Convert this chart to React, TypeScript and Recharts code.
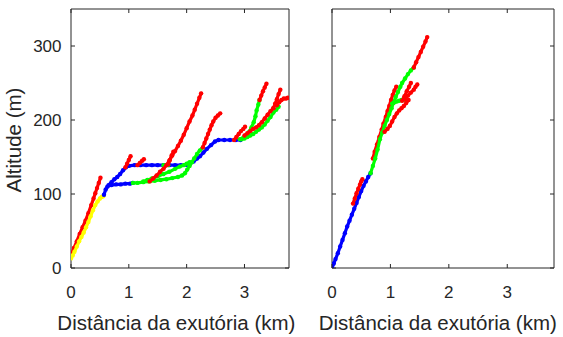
import React from 'react';
import { ScatterChart, Scatter, XAxis, YAxis } from 'recharts';

type Pt = [number, number];

// ---- left panel: distance (km), altitude (m) ----
const leftYellow: Pt[] = [[0, 13], [0.03, 17], [0.06, 22], [0.1, 29], [0.14, 36], [0.18, 42], [0.22, 48], [0.26, 55], [0.3, 62], [0.34, 70], [0.38, 78], [0.42, 85], [0.46, 90], [0.5, 94], [0.53, 96], [0.56, 97]];
const leftRedLow: Pt[] = [[0.01, 19], [0.05, 27], [0.1, 36], [0.15, 46], [0.2, 55], [0.25, 64], [0.3, 74], [0.35, 85], [0.39, 94], [0.42, 101], [0.45, 108], [0.48, 115], [0.51, 122]];
const leftBlue: Pt[] = [[0.57, 99], [0.6, 106], [0.65, 112], [0.7, 116], [0.75, 120], [0.8, 123], [0.85, 127], [0.9, 132], [0.95, 136], [1.0, 138], [1.1, 139], [1.2, 139], [1.3, 139], [1.4, 139], [1.5, 139], [1.6, 139], [1.7, 139], [1.8, 139], [1.9, 139], [2.0, 139.5], [2.06, 141], [2.12, 144], [2.18, 148], [2.23, 151], [2.29, 156], [2.35, 161], [2.42, 166], [2.49, 171], [2.55, 173], [2.65, 173], [2.75, 173], [2.85, 173], [2.93, 173]];
const leftBlueLow: Pt[] = [[0.63, 110], [0.7, 112], [0.78, 113], [0.86, 113], [0.94, 114], [1.02, 114], [1.07, 115]];
const leftGreenLow: Pt[] = [[1.07, 115], [1.15, 115], [1.25, 116], [1.35, 117], [1.45, 118], [1.55, 119], [1.65, 120], [1.75, 121.5], [1.85, 123], [1.92, 125], [1.97, 128], [2.01, 133], [2.05, 138], [2.09, 143], [2.13, 148], [2.18, 154], [2.23, 159], [2.28, 163]];
const leftGreenUp: Pt[] = [[1.25, 117], [1.32, 119], [1.4, 121], [1.5, 124], [1.6, 127], [1.7, 130], [1.8, 134], [1.88, 137], [1.95, 139], [2.0, 141], [2.05, 143]];
const leftGreenBit: Pt[] = [[1.6, 139], [1.64, 139], [1.68, 139]];
const leftRedA: Pt[] = [[0.94, 136], [0.97, 141], [1.0, 146], [1.03, 151]];
const leftRedB: Pt[] = [[1.15, 139], [1.19, 142], [1.23, 145], [1.26, 147]];
const leftRedBig: Pt[] = [[1.36, 117], [1.42, 121], [1.48, 125], [1.54, 130], [1.6, 134], [1.65, 139], [1.7, 145], [1.75, 152], [1.8, 158], [1.85, 165], [1.9, 172], [1.95, 180], [2.0, 189], [2.05, 198], [2.1, 206], [2.14, 214], [2.18, 222], [2.22, 230], [2.25, 236]];
const leftRedSpike: Pt[] = [[1.68, 140], [1.71, 146], [1.74, 152], [1.77, 157]];
const leftRedMidBranch: Pt[] = [[2.28, 163], [2.31, 169], [2.34, 175], [2.37, 181], [2.4, 187], [2.43, 193], [2.46, 198], [2.5, 203], [2.54, 206], [2.58, 209]];
const leftRedShelf: Pt[] = [[2.82, 173], [2.86, 177], [2.9, 181], [2.94, 185], [2.98, 188], [3.01, 191]];
const leftGreenSteep: Pt[] = [[2.92, 174], [2.98, 176], [3.04, 179], [3.08, 184], [3.12, 190], [3.16, 197], [3.19, 205], [3.21, 213], [3.24, 221], [3.26, 227]];
const leftRedTip: Pt[] = [[3.26, 227], [3.29, 233], [3.32, 239], [3.35, 244], [3.38, 249]];
const leftGreenFlat: Pt[] = [[2.95, 174], [3.0, 175], [3.05, 177], [3.1, 179], [3.15, 181], [3.2, 184], [3.25, 187], [3.3, 190], [3.35, 194], [3.4, 199], [3.45, 204], [3.5, 210], [3.55, 214], [3.59, 218]];
const leftRedSide: Pt[] = [[3.0, 179], [3.05, 182], [3.1, 185], [3.15, 188], [3.2, 190], [3.25, 193], [3.3, 197], [3.35, 202], [3.4, 207], [3.45, 212], [3.5, 216]];
const leftRedEnd1: Pt[] = [[3.5, 216], [3.53, 222], [3.56, 228], [3.59, 235], [3.62, 241]];
const leftRedEnd2: Pt[] = [[3.56, 220], [3.6, 224], [3.64, 227], [3.68, 229], [3.72, 229], [3.75, 230]];

// ---- right panel ----
const rightBlue: Pt[] = [[0, 0], [0.03, 6], [0.06, 12], [0.1, 20], [0.14, 29], [0.18, 38], [0.22, 47], [0.26, 56], [0.3, 64], [0.34, 72], [0.38, 80], [0.42, 88], [0.46, 96], [0.5, 104], [0.54, 111], [0.58, 117], [0.62, 123], [0.66, 128]];
const rightRedLow: Pt[] = [[0.36, 87], [0.39, 94], [0.42, 101], [0.45, 107], [0.48, 113], [0.5, 117], [0.52, 120]];
const rightGreen: Pt[] = [[0.66, 128], [0.7, 138], [0.74, 148], [0.78, 160], [0.82, 174], [0.86, 183], [0.9, 192], [0.94, 200], [0.98, 208], [1.02, 216], [1.05, 223], [1.09, 231], [1.13, 238], [1.17, 245], [1.2, 250], [1.25, 256], [1.3, 262], [1.35, 267], [1.4, 271]];
const rightGreenBranch: Pt[] = [[1.03, 222], [1.07, 224], [1.11, 225], [1.15, 226], [1.19, 227], [1.22, 227]];
const rightRedTop: Pt[] = [[1.4, 271], [1.44, 278], [1.48, 285], [1.52, 292], [1.56, 299], [1.6, 306], [1.63, 312]];
const rightRedA: Pt[] = [[0.7, 148], [0.73, 157], [0.77, 167], [0.81, 177], [0.85, 187], [0.88, 195], [0.92, 204], [0.95, 212], [0.98, 219], [1.01, 227], [1.04, 234], [1.07, 240], [1.1, 245]];
const rightRedD: Pt[] = [[0.9, 184], [0.95, 188], [0.99, 192], [1.03, 198], [1.07, 204], [1.11, 209], [1.15, 213], [1.19, 216], [1.23, 219], [1.27, 223], [1.31, 227]];
const rightRedB: Pt[] = [[1.2, 226], [1.24, 232], [1.28, 239], [1.32, 245], [1.35, 250]];
const rightRedC: Pt[] = [[1.25, 228], [1.3, 233], [1.35, 237], [1.4, 241], [1.43, 245], [1.46, 248]];

const xTicks = [0, 1, 2, 3];
const yTicks = [0, 100, 200, 300];
const xLabel = 'Distância da exutória (km)';
const yLabel = 'Altitude (m)';

const RED = '#ff0000';
const GREEN = '#00ff00';
const BLUE = '#0000ff';
const YELLOW = '#ffff00';
const INK = '#262626';
const FONT = '"Liberation Sans", Arial, sans-serif';

// drawing order = list order
const leftTraces: [Pt[], string][] = [
  [leftRedLow, RED],
  [leftYellow, YELLOW],
  [leftBlue, BLUE],
  [leftBlueLow, BLUE],
  [leftGreenLow, GREEN],
  [leftGreenUp, GREEN],
  [leftGreenBit, GREEN],
  [leftGreenSteep, GREEN],
  [leftGreenFlat, GREEN],
  [leftRedA, RED],
  [leftRedB, RED],
  [leftRedBig, RED],
  [leftRedSpike, RED],
  [leftRedMidBranch, RED],
  [leftRedShelf, RED],
  [leftRedTip, RED],
  [leftRedSide, RED],
  [leftRedEnd1, RED],
  [leftRedEnd2, RED],
];

const rightTraces: [Pt[], string][] = [
  [rightBlue, BLUE],
  [rightRedA, RED],
  [rightGreen, GREEN],
  [rightGreenBranch, GREEN],
  [rightRedLow, RED],
  [rightRedTop, RED],
  [rightRedD, RED],
  [rightRedB, RED],
  [rightRedC, RED],
];

const toPts = (arr: Pt[]) => arr.map(([x, y]) => ({ x, y }));

type Side = 'bottom' | 'top' | 'left' | 'right';

// inward tick marks, like a boxed matlab axes
const makeTick = (side: Side, showLabel: boolean) => (props: any) => {
  const { x, y, payload } = props;
  const len = 4;
  let x2 = x;
  let y2 = y;
  if (side === 'bottom') y2 = y - len;
  if (side === 'top') y2 = y + len;
  if (side === 'left') x2 = x + len;
  if (side === 'right') x2 = x - len;
  return (
    <g>
      <line x1={x} y1={y} x2={x2} y2={y2} stroke={INK} strokeWidth={1} />
      {showLabel && side === 'bottom' && (
        <text x={x} y={y + 30} textAnchor="middle" fontSize={17} fontFamily={FONT} fill={INK}>
          {payload.value}
        </text>
      )}
      {showLabel && side === 'left' && (
        <text x={x - 9.5} y={y + 6} textAnchor="end" fontSize={17} fontFamily={FONT} fill={INK}>
          {payload.value}
        </text>
      )}
    </g>
  );
};

const makeDot = (color: string) => (props: any) => (
  <circle cx={props.cx} cy={props.cy} r={2.2} fill={color} />
);

interface PanelProps {
  traces: [Pt[], string][];
  xMax: number;
  left: number;
  marginRight: number;
  yAxisLabels: boolean;
  xTitleX: number;
}

const Panel: React.FC<PanelProps> = ({ traces, xMax, left, marginRight, yAxisLabels, xTitleX }) => (
  <div style={{ position: 'absolute', left, top: 0 }}>
    <ScatterChart width={300} height={337} margin={{ top: 8, right: marginRight, bottom: 0, left: 0 }}>
      <XAxis
        xAxisId="b"
        type="number"
        dataKey="x"
        orientation="bottom"
        domain={[0, xMax]}
        ticks={xTicks}
        allowDataOverflow
        height={69}
        axisLine={{ stroke: INK }}
        tickLine={false}
        tickSize={0}
        tickMargin={0}
        tick={makeTick('bottom', true)}
        label={() => (
          <text x={xTitleX} y={330} textAnchor="middle" fontSize={20.5} fontFamily={FONT} fill={INK}>
            {xLabel}
          </text>
        )}
      />
      <XAxis
        xAxisId="t"
        type="number"
        dataKey="x"
        orientation="top"
        domain={[0, xMax]}
        ticks={xTicks}
        allowDataOverflow
        height={1}
        axisLine={{ stroke: INK }}
        tickLine={false}
        tickSize={0}
        tickMargin={0}
        tick={makeTick('top', false)}
      />
      <YAxis
        yAxisId="l"
        type="number"
        dataKey="y"
        orientation="left"
        domain={[0, 350]}
        ticks={yTicks}
        allowDataOverflow
        width={yAxisLabels ? 71 : 69}
        axisLine={{ stroke: INK }}
        tickLine={false}
        tickSize={0}
        tickMargin={0}
        tick={makeTick('left', yAxisLabels)}
        label={
          yAxisLabels
            ? () => (
                <text
                  x={21}
                  y={140}
                  transform="rotate(-90 21 140)"
                  textAnchor="middle"
                  fontSize={20.5}
                  fontFamily={FONT}
                  fill={INK}
                >
                  {yLabel}
                </text>
              )
            : undefined
        }
      />
      <YAxis
        yAxisId="r"
        type="number"
        dataKey="y"
        orientation="right"
        domain={[0, 350]}
        ticks={yTicks}
        allowDataOverflow
        width={1}
        axisLine={{ stroke: INK }}
        tickLine={false}
        tickSize={0}
        tickMargin={0}
        tick={makeTick('right', false)}
      />
      {traces.map(([arr, color], i) => (
        <Scatter
          key={i}
          xAxisId="b"
          yAxisId="l"
          data={toPts(arr)}
          fill={color}
          line={{ stroke: color, strokeWidth: 3.2, strokeLinecap: 'round', strokeLinejoin: 'round' }}
          shape={makeDot(color)}
          isAnimationActive={false}
        />
      ))}
    </ScatterChart>
  </div>
);

export default function App() {
  return (
    <div style={{ position: 'absolute', left: 0, top: 0, width: 563, height: 337, background: '#fff' }}>
      <Panel traces={leftTraces} xMax={3.77} left={0} marginRight={10} yAxisLabels xTitleX={176.4} />
      <Panel traces={rightTraces} xMax={3.8} left={263} marginRight={8} yAxisLabels={false} xTitleX={174.8} />
    </div>
  );
}
